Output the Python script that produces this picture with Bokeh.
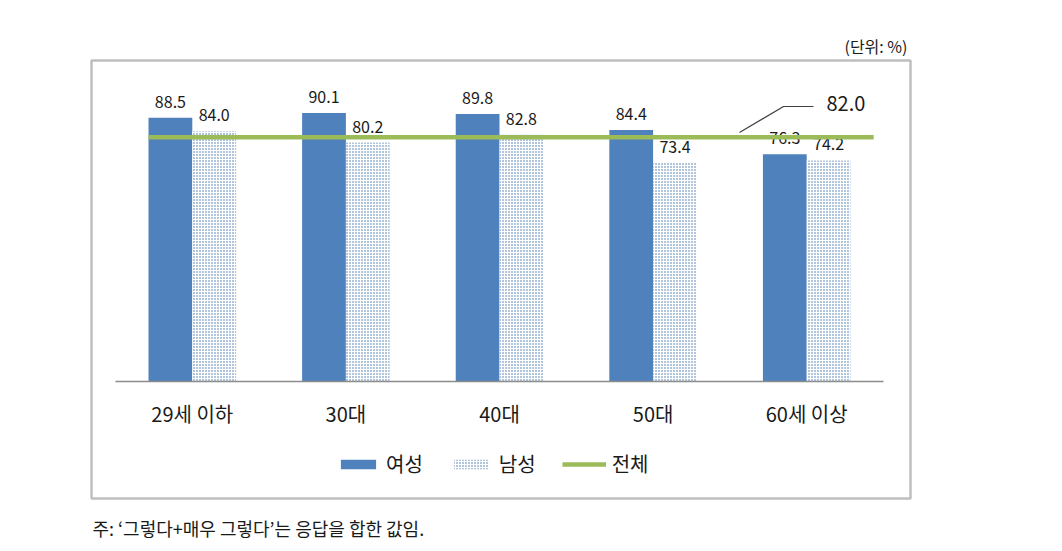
from bokeh.plotting import figure
from bokeh.models import ColumnDataSource, Legend, LegendItem, Range1d
from bokeh.core.properties import value
from bokeh.embed import file_html
from bokeh.resources import INLINE

# ---- data ----
categories = ["29세 이하", "30대", "40대", "50대", "60세 이상"]
female = [88.5, 90.1, 89.8, 84.4, 76.3]
male = [84.0, 80.2, 82.8, 73.4, 74.2]
total = 82.0
series_names = ["여성", "남성", "전체"]
unit_text = "(단위: %)"
note_text = "주: ‘그렇다+매우 그렇다’는 응답을 합한 값임."

FONT = "Noto Sans CJK KR"
W, H = 1062, 551

# pixel geometry of the plot (x in category units, y in %)
px0, px_per_cat = 115, 153.6
py0, px_per_pct = 381, 2.98

def X(px):
    return (px - px0) / px_per_cat

def Y(py):
    return (py0 - py) / px_per_pct

p = figure(width=W, height=H, output_backend="svg", toolbar_location=None,
           x_axis_location=None, y_axis_location=None,
           x_range=Range1d(X(0), X(W)), y_range=Range1d(Y(H), Y(0)),
           min_border=0, outline_line_color=None, background_fill_color="white",
           border_fill_color="white")
p.xgrid.visible = False
p.ygrid.visible = False

n = len(categories)
centers = [i + 0.5 for i in range(n)]
bw = 0.285
xf = [c - bw / 2 for c in centers]
xm = [c + bw / 2 for c in centers]

src_f = ColumnDataSource(dict(x=xf, top=female, lab=[f"{v:.1f}" for v in female]))
src_m = ColumnDataSource(dict(x=xm, top=male, lab=[f"{v:.1f}" for v in male]))

# outer box
p.quad(left=X(91), right=X(910), top=Y(60), bottom=Y(498),
       fill_color=None, line_color="#bfbfbf", line_width=2.5)

r_f = p.vbar(x="x", top="top", bottom=0, width=bw, source=src_f,
             fill_color="#4f81bd", line_color=None)
r_m = p.vbar(x="x", top="top", bottom=0, width=bw, source=src_m,
             fill_color="white", line_color=None,
             hatch_pattern="dot", hatch_color="#3b6ea8", hatch_scale=3.0,
             hatch_weight=2.0)

# baseline
p.segment(x0=[0], y0=[0], x1=[n], y1=[0], line_color="#8c8c8c", line_width=1.5)

# value labels
for s in (src_f, src_m):
    p.text(x="x", y="top", text="lab", source=s, text_align="center",
           text_baseline="bottom", y_offset=-10, text_font=value(FONT),
           text_font_size="16px", text_color="#1a1a1a")

# total line
r_t = p.segment(x0=[centers[0] - 0.285], y0=[total], x1=[centers[-1] + 0.436],
                y1=[total], line_color="#9bbb59", line_width=4.5)

# leader + total label
p.line(x=[X(739), X(783), X(813)], y=[total + 1.56, total + 10.28, total + 10.28],
       line_color="#404040", line_width=1.2)
p.text(x=[X(826)], y=[total + 11.3], text=[f"{total:.1f}"], text_align="left",
       text_baseline="middle", text_font=value(FONT), text_font_size="20px",
       text_color="#1a1a1a")

# category labels
p.text(x=centers, y=[0] * n, text=categories, text_align="center",
       text_baseline="middle", y_offset=32, text_font=value(FONT),
       text_font_size="20px", text_color="#1a1a1a")

# unit and footnote
p.text(x=[X(907)], y=[Y(45)], text=[unit_text], text_align="right",
       text_baseline="middle", text_font=value(FONT), text_font_size="16px",
       text_color="#1a1a1a")
p.text(x=[X(92)], y=[Y(527)], text=[note_text], text_align="left",
       text_baseline="middle", text_font=value(FONT), text_font_size="18px",
       text_color="#1a1a1a")

legend = Legend(items=[LegendItem(label=series_names[0], renderers=[r_f]),
                       LegendItem(label=series_names[1], renderers=[r_m]),
                       LegendItem(label=series_names[2], renderers=[r_t])],
                orientation="horizontal", location=(336, 73),
                glyph_width=44, glyph_height=12, label_standoff=6, spacing=26,
                padding=0, margin=0, border_line_color=None,
                background_fill_alpha=0, label_text_font=FONT,
                label_text_font_size="20px", label_text_color="#1a1a1a",
                label_height=20)
p.add_layout(legend, "center")

open("out.html", "w").write(file_html(p, INLINE))
